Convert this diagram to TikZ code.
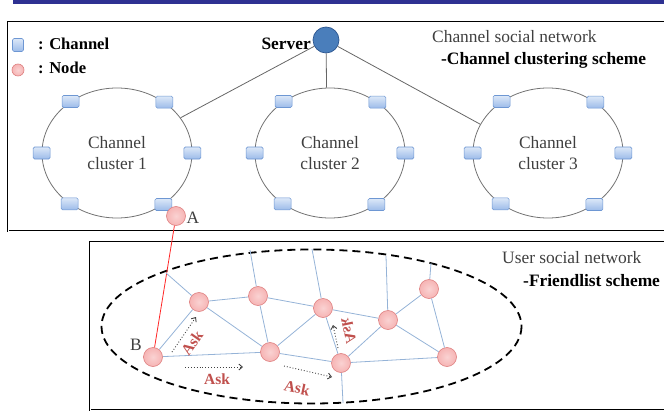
\documentclass[tikz,border=0pt]{standalone}
\usepackage{fontspec}
\setmainfont{Liberation Serif}
\usetikzlibrary{shapes.geometric,arrows.meta,calc}
\definecolor{barblue}{HTML}{2E3192}
\definecolor{chfillT}{HTML}{DCE8F8}
\definecolor{chfillB}{HTML}{9CBBE9}
\definecolor{chdraw}{HTML}{6E97D3}
\definecolor{ndfill}{HTML}{F6B4B4}
\definecolor{nddraw}{HTML}{DE7F7F}
\definecolor{edgeblue}{HTML}{95B3D7}
\definecolor{askred}{HTML}{C0504D}
\definecolor{txtgray}{HTML}{3F3F3F}
\definecolor{srvfill}{HTML}{4A7EBB}
\definecolor{srvdraw}{HTML}{2C5690}
\newcommand{\bigfont}{\fontsize{17.4}{21}\selectfont}
\newcommand{\askfont}{\fontsize{15.5}{18}\selectfont\bfseries}
\tikzset{
  chan/.style={draw=chdraw, line width=0.6pt, rounded corners=1.5pt, top color=chfillT, bottom color=chfillB, minimum width=17pt, minimum height=12pt, inner sep=0pt},
  unode/.style={circle, draw=nddraw, line width=0.6pt, inner color=ndfill!60, outer color=ndfill, minimum size=19pt, inner sep=0pt},
  cluster/.style={ellipse, draw=gray!90!black, line width=0.8pt, minimum width=150pt, minimum height=130pt, inner sep=0pt, align=center, text=txtgray, font=\bigfont},
  frame/.style={draw=black, double=white, double distance=0.7pt, line width=0.7pt},
  uedge/.style={draw=edgeblue, line width=0.8pt},
  sline/.style={draw=gray!80!black, line width=0.8pt},
  askarrow/.style={draw=black!75, dotted, line width=0.9pt, -{Straight Barb[length=3.5pt,width=6pt]}},
  asklabel/.style={text=askred, font=\askfont, inner sep=0pt},
  plaintext/.style={font=\bigfont, inner sep=0pt, anchor=west}
}
\begin{document}
\begin{tikzpicture}[x=1pt,y=-1pt]
\useasboundingbox (0,0) rectangle (664,412);
% top bar
\fill[barblue] (13,0) rectangle (664,4);
% frames
\draw[frame] (670,22) -- (8,22) -- (8,231) -- (670,231);
\draw[frame] (670,242) -- (90,242) -- (90,410) -- (670,410);

% legend
\node[chan, minimum width=11pt, minimum height=13pt] (legch) at (18,45) {};
\node[plaintext, font=\fontsize{16.6}{19}\selectfont\bfseries] (legchtxt) at (38,44) {: Channel};
\node[unode, minimum size=12pt] (legnd) at (18,70) {};
\node[plaintext, font=\fontsize{16.6}{19}\selectfont\bfseries] (legndtxt) at (38,68) {: Node};

% server
\node[circle, draw=srvdraw, fill=srvfill, line width=0.7pt, minimum size=26pt, inner sep=0pt] (srv) at (326,40) {};
\node[font=\bigfont\bfseries, anchor=east, inner sep=0pt] (srvtxt) at (311,44) {Server};

% titles
\node[plaintext, text=txtgray] (t1) at (432,37) {Channel social network};
\node[plaintext, font=\bigfont\bfseries] (t2) at (441,60) {-Channel clustering scheme};
\node[plaintext, text=txtgray] (t3) at (502,258) {User social network};
\node[plaintext, font=\bigfont\bfseries] (t4) at (523,281) {-Friendlist scheme};

% clusters
\node[cluster] (cl1) at (117,153) {Channel\\cluster 1};
\node[cluster] (cl2) at (330,153) {Channel\\cluster 2};
\node[cluster] (cl3) at (548,153) {Channel\\cluster 3};

% server links
\draw[sline] (srv) -- (cl1.29);
\draw[sline] (srv) -- (cl2.93);
\draw[sline] (srv) -- (cl3.157.6);

% channel squares
\foreach \c in {cl1,cl2,cl3}{
  \foreach \a in {0,47.3,132.7,180,227.3,312.7}{
    \node[chan] (\c-\a) at (\c.\a) {};
  }
}

% user network
\draw[black, line width=1.8pt, dash pattern=on 8pt off 5pt] (311.5,326.5) ellipse [x radius=210, y radius=77];

\node[unode] (A) at (176,216) {};
\node[font=\bigfont, text=txtgray, inner sep=0pt] (Alab) at (193,218) {A};
\node[unode] (B) at (153,357) {};
\node[font=\bigfont, text=txtgray, inner sep=0pt] (Blab) at (136,345) {B};
\node[unode] (n1) at (199,302) {};
\node[unode] (n2) at (258,296) {};
\node[unode] (n3) at (323,308) {};
\node[unode] (n4) at (270,352) {};
\node[unode] (n5) at (341,363) {};
\node[unode] (n6) at (388,320) {};
\node[unode] (n7) at (429,289) {};
\node[unode] (n8) at (447,357) {};

\coordinate (e1) at (166,273);
\coordinate (e2) at (250,250);
\coordinate (e3) at (312,249);
\coordinate (e4) at (343,403);
\coordinate (e5) at (386,256);
\coordinate (e6) at (431,263);

\draw[red!85!white, line width=0.8pt] (A) -- (B);

\draw[uedge] (n1) -- (e1);
\draw[uedge] (n1) -- (n2);
\draw[uedge] (n1) -- (B);
\draw[uedge] (n1) -- (n4);
\draw[uedge] (n2) -- (e2);
\draw[uedge] (n2) -- (n4);
\draw[uedge] (n2) -- (n3);
\draw[uedge] (n3) -- (e3);
\draw[uedge] (n3) -- (n4);
\draw[uedge] (n3) -- (n5);
\draw[uedge] (n3) -- (n6);
\draw[uedge] (B) -- (n4);
\draw[uedge] (n4) -- (n5);
\draw[uedge] (n5) -- (e4);
\draw[uedge] (n5) -- (n6);
\draw[uedge] (n5) -- (n8);
\draw[uedge] (n6) -- (e5);
\draw[uedge] (n6) -- (n7);
\draw[uedge] (n6) -- (n8);
\draw[uedge] (n7) -- (e6);
\draw[uedge] (n7) -- (n8);

% ask arrows
\coordinate (a1s) at (172,352); \coordinate (a1e) at (196,317);
\coordinate (a2s) at (185,367); \coordinate (a2e) at (243,367);
\coordinate (a3s) at (284,366); \coordinate (a3e) at (332,377);
\coordinate (a4s) at (338,348); \coordinate (a4e) at (333,325);
\draw[askarrow] (a1s) -- (a1e);
\draw[askarrow] (a2s) -- (a2e);
\draw[askarrow] (a3s) -- (a3e);
\draw[askarrow] (a4s) -- (a4e);
\node[asklabel, rotate=55] (k1) at (192,343) {Ask};
\node[asklabel] (k2) at (217,379) {Ask};
\node[asklabel, rotate=-12] (k3) at (297,388) {Ask};
\node[asklabel, rotate=-78] (k4) at (349,331) {\scalebox{-1}[1]{Ask}};
\end{tikzpicture}
\end{document}
